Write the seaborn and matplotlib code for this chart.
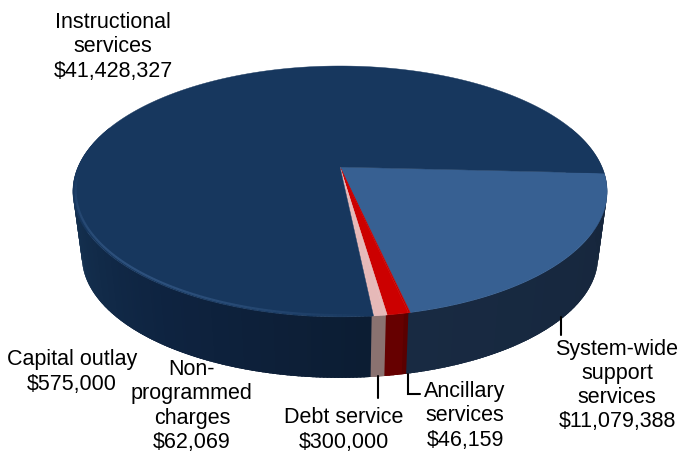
import numpy as np
import matplotlib
matplotlib.use("Agg")
import matplotlib.pyplot as plt
import seaborn as sns

# Budget slices, clockwise from the right-hand side of the pie
categories = ["System-wide support services", "Ancillary services", "Capital outlay",
              "Non-programmed charges", "Debt service", "Instructional services"]
amounts = [11079388, 46159, 575000, 62069, 300000, 41428327]

top_colors = ["#376092", "#BE0000", "#CC0000", "#E6B9B8", "#E6B9B8", "#17375E"]
wall_ramps = [["#16263C", "#182A42"], ["#5A0000", "#5A0000"], ["#660000", "#660000"],
              ["#8A7270", "#8A7270"], ["#8A7270", "#8A7270"],
              ["#0C1D33", "#0E2340", "#14304F", "#16345C"]]

sns.set_theme(style="white")
plt.rcParams["font.family"] = ["Liberation Sans", "DejaVu Sans"]

fig, ax = plt.subplots(figsize=(6.82, 4.56), dpi=100)
fig.subplots_adjust(0, 0, 1, 1)
ax.set_xlim(0, 682)
ax.set_ylim(456, 0)
ax.axis("off")

# Perspective of the disc: apex on screen, half axes and foreshortening
APEX_X, APEX_Y = 340.0, 168.0
AXIS_X, AXIS_Y, TILT = 262.0, 120.7, 0.195
START_DEG = 2.9
BASE_SCALE, BASE_DROP = 0.966, 66.0


def project(deg, radius=1.0, scale=1.0, drop=0.0):
    t = np.radians(deg)
    u, v = radius * np.cos(t), radius * np.sin(t)
    w = 1 - TILT * v
    return APEX_X + scale * AXIS_X * u / w, APEX_Y + drop + scale * AXIS_Y * v / w


sweeps = 360 * np.array(amounts) / sum(amounts)
edges = START_DEG + np.concatenate([[0], np.cumsum(sweeps)])

# Short return of the wall past the right-hand edge
seg = np.linspace(-20, edges[0] + 0.5, 30)
tx, ty = project(seg)
bx, by = project(seg[::-1], scale=BASE_SCALE, drop=BASE_DROP)
ax.fill(np.r_[tx, bx], np.r_[ty, by], color=wall_ramps[0][0], lw=0, zorder=1)

# Side wall, painted as narrow overlapping strips so the shading can vary along the rim
for i in range(len(wall_ramps) - 1, -1, -1):
    ramp = wall_ramps[i]
    a0, a1 = edges[i], min(edges[i + 1], 200.0)
    n = max(2, int((a1 - a0) * 1.5))
    shades = sns.blend_palette(ramp, n_colors=n)
    stops = np.linspace(a0, a1, n + 1)
    # later strips overlap earlier ones, so walk from the far end toward the start
    for j in range(n - 1, -1, -1):
        seg = np.linspace(stops[j], stops[j + 1] + (1.0 if j < n - 1 else 0.0), 4)
        tx, ty = project(seg)
        bx, by = project(seg[::-1], scale=BASE_SCALE, drop=BASE_DROP)
        ax.fill(np.r_[tx, bx], np.r_[ty, by], color=shades[j], lw=0, zorder=2)

# Top face
for i, color in enumerate(top_colors):
    seg = np.linspace(edges[i], edges[i + 1], max(3, int(sweeps[i] * 2)))
    x, y = project(seg)
    ax.fill(np.r_[APEX_X, x], np.r_[APEX_Y, y], color=color, lw=0.3, zorder=3)

# Soft bevel highlight along the front rim of the large slice
rim = np.linspace(edges[5], 178, 120)
for a, b in zip(rim[:-1], rim[1:]):
    x, y = project(np.array([a, b]), radius=0.99)
    fade = 0.4 * np.sin(np.pi * (a - rim[0]) / (rim[-1] - rim[0])) ** 1.0
    ax.plot(x, y, color="#4F78AC", lw=1.6, alpha=fade, zorder=4, solid_capstyle="butt")

# Leader lines
leader = dict(color="black", lw=1.5, zorder=5, solid_joinstyle="miter")
ax.plot([561, 561], [318, 336], **leader)
ax.plot([378, 378], [377, 399], **leader)
ax.plot([408, 408, 420], [375, 395, 395], **leader)

# Labels
label_names = ["System-wide\nsupport\nservices", "Ancillary\nservices", "Capital outlay",
               "Non-\nprogrammed\ncharges", "Debt service", "Instructional\nservices"]
label_spots = [(617, 385.5), (465, 416), (72, 372), (192, 406), (344, 430), (113, 47)]
for name, amount, (lx, ly) in zip(label_names, amounts, label_spots):
    ax.text(lx, ly, f"{name}\n${amount:,}", ha="center", va="center", fontsize=15.5,
            color="black", linespacing=1.2, zorder=6)

fig.savefig("out.png", dpi=100)
